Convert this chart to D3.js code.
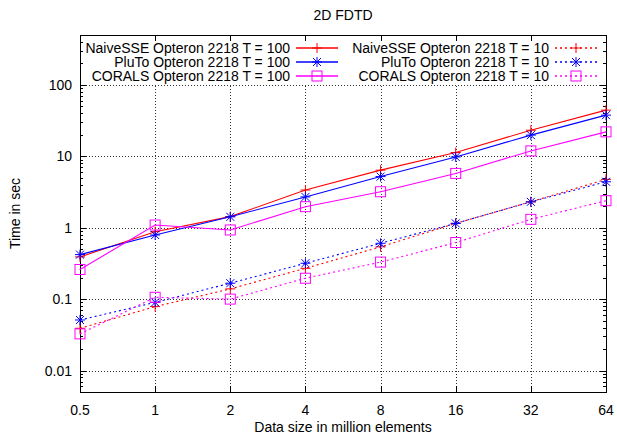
<!DOCTYPE html>
<meta charset="utf-8">
<style>
body { margin: 0; background: #fff; }
text { font-family: "Liberation Sans", Arial, sans-serif; font-size: 14px; fill: #000; }
.grid line { stroke: #333; stroke-width: 1px; stroke-dasharray: 1,2; shape-rendering: crispEdges; }
.border { fill: none; stroke: #000; stroke-width: 1px; shape-rendering: crispEdges; }
.tick { stroke: #000; stroke-width: 1px; shape-rendering: crispEdges; }
.series { fill: none; stroke-width: 1.1px; }
</style>
<svg width="617" height="436"></svg>
<script src="https://d3js.org/d3.v7.min.js"></script>
<script>

var sizes = [0.5, 1, 2, 4, 8, 16, 32, 64];
var naive100 = [0.39, 0.88, 1.43, 3.37, 6.4, 11.3, 23.2, 44.3];
var pluto100 = [0.42, 0.79, 1.42, 2.7, 5.2, 9.8, 19.8, 37.7];
var corals100 = [0.26, 1.09, 0.93, 1.97, 3.19, 5.76, 11.9, 22];
var naive10 = [0.039, 0.0785, 0.139, 0.27, 0.54, 1.15, 2.31, 4.75];
var pluto10 = [0.051, 0.09, 0.167, 0.318, 0.605, 1.15, 2.3, 4.4];
var corals10 = [0.0326, 0.106, 0.1, 0.196, 0.33, 0.62, 1.31, 2.39];
var yTicks = [0.01, 0.1, 1, 10, 100];
var xTickLabels = ["0.5", "1", "2", "4", "8", "16", "32", "64"];

var series = [
  {name: "NaiveSSE Opteron 2218 T = 100", values: naive100, color: "#ff0000", mark: "plus", dash: null},
  {name: "PluTo Opteron 2218 T = 100", values: pluto100, color: "#0000ff", mark: "star", dash: null},
  {name: "CORALS Opteron 2218 T = 100", values: corals100, color: "#ff00ff", mark: "square", dash: null},
  {name: "NaiveSSE Opteron 2218 T = 10", values: naive10, color: "#ff0000", mark: "plus", dash: "2,3"},
  {name: "PluTo Opteron 2218 T = 10", values: pluto10, color: "#0000ff", mark: "star", dash: "2,3"},
  {name: "CORALS Opteron 2218 T = 10", values: corals10, color: "#ff00ff", mark: "square", dash: "2,3"}
];

var svg = d3.select("svg");
var pLeft = 80, pRight = 606, pTop = 35, pBottom = 392;

var x = d3.scaleLog().base(2).domain([0.5, 64]).range([pLeft, pRight]);
var y = d3.scaleLog().domain([0.005, 500]).range([pBottom, pTop]);

// grid
var grid = svg.append("g").attr("class", "grid");
grid.selectAll("line.v").data(sizes.slice(1, -1)).enter().append("line")
    .attr("x1", d => Math.round(x(d)) + 0.5).attr("x2", d => Math.round(x(d)) + 0.5)
    .attr("y1", pTop).attr("y2", pBottom);
grid.selectAll("line.h").data(yTicks).enter().append("line")
    .attr("x1", pLeft).attr("x2", pRight)
    .attr("y1", d => Math.round(y(d)) + 0.5).attr("y2", d => Math.round(y(d)) + 0.5);

// key background hides the grid
svg.append("rect").attr("x", pLeft + 1).attr("y", pTop + 1)
    .attr("width", pRight - pLeft - 2).attr("height", Math.round(y(100)) - pTop - 2)
    .attr("fill", "#fff");

// ticks
var ticks = svg.append("g");
sizes.forEach(function(d) {
  var xx = Math.round(x(d)) + 0.5;
  ticks.append("line").attr("class", "tick").attr("x1", xx).attr("x2", xx).attr("y1", pBottom).attr("y2", pBottom - 6);
  ticks.append("line").attr("class", "tick").attr("x1", xx).attr("x2", xx).attr("y1", pTop).attr("y2", pTop + 6);
});
var minor = [];
for (var e = -3; e <= 2; e++) {
  for (var m = 1; m <= 9; m++) {
    var v = m * Math.pow(10, e);
    if (v >= 0.005 && v <= 500) minor.push({v: v, major: m === 1});
  }
}
minor.forEach(function(d) {
  var yy = Math.round(y(d.v)) + 0.5, len = d.major ? 6 : 3;
  ticks.append("line").attr("class", "tick").attr("x1", pLeft).attr("x2", pLeft + len).attr("y1", yy).attr("y2", yy);
  ticks.append("line").attr("class", "tick").attr("x1", pRight).attr("x2", pRight - len).attr("y1", yy).attr("y2", yy);
});

svg.append("rect").attr("class", "border")
    .attr("x", pLeft + 0.5).attr("y", pTop + 0.5)
    .attr("width", pRight - pLeft).attr("height", pBottom - pTop);

// tick labels
svg.selectAll("text.xl").data(sizes).enter().append("text")
    .attr("x", d => x(d)).attr("y", 415).attr("text-anchor", "middle")
    .text((d, i) => xTickLabels[i]);
svg.selectAll("text.yl").data(yTicks).enter().append("text")
    .attr("x", 72).attr("y", d => y(d) + 5).attr("text-anchor", "end")
    .text(d => String(d));

svg.append("text").attr("x", (pLeft + pRight) / 2).attr("y", 20).attr("text-anchor", "middle").text("2D FDTD");
svg.append("text").attr("x", (pLeft + pRight) / 2).attr("y", 432).attr("text-anchor", "middle").text("Data size in million elements");
svg.append("text").attr("transform", "translate(20," + ((pTop + pBottom) / 2) + ") rotate(-90)")
    .attr("text-anchor", "middle").text("Time in sec");

function drawMark(g, type, cx, cy, color) {
  var s = 5;
  if (type === "plus" || type === "star") {
    g.append("line").attr("x1", cx - s).attr("x2", cx + s).attr("y1", cy).attr("y2", cy).attr("stroke", color);
    g.append("line").attr("x1", cx).attr("x2", cx).attr("y1", cy - s).attr("y2", cy + s).attr("stroke", color);
  }
  if (type === "star") {
    var t = 4;
    g.append("line").attr("x1", cx - t).attr("x2", cx + t).attr("y1", cy - t).attr("y2", cy + t).attr("stroke", color);
    g.append("line").attr("x1", cx - t).attr("x2", cx + t).attr("y1", cy + t).attr("y2", cy - t).attr("stroke", color);
  }
  if (type === "square") {
    g.append("rect").attr("x", cx - s).attr("y", cy - s).attr("width", 2 * s).attr("height", 2 * s)
        .attr("fill", "none").attr("stroke", color);
    g.append("rect").attr("x", cx - 0.5).attr("y", cy - 0.5).attr("width", 1).attr("height", 1).attr("fill", color);
  }
}

var line = d3.line().x(d => x(d[0])).y(d => y(d[1]));

series.forEach(function(s) {
  var g = svg.append("g");
  var pts = sizes.map((d, i) => [d, s.values[i]]);
  g.append("path").attr("class", "series").attr("d", line(pts))
      .attr("stroke", s.color).attr("stroke-dasharray", s.dash);
  pts.forEach(p => drawMark(g, s.mark, x(p[0]), y(p[1]), s.color));
});

// key
var keyRows = [48, 62, 76];
var keyCols = [{textEnd: 290, x1: 296, x2: 338}, {textEnd: 549, x1: 555, x2: 597}];
series.forEach(function(s, i) {
  var col = keyCols[Math.floor(i / 3)], ry = keyRows[i % 3];
  svg.append("text").attr("x", col.textEnd).attr("y", ry + 5).attr("text-anchor", "end").text(s.name);
  var g = svg.append("g");
  g.append("line").attr("x1", col.x1).attr("x2", col.x2).attr("y1", ry).attr("y2", ry)
      .attr("stroke", s.color).attr("stroke-width", 1.5).attr("stroke-dasharray", s.dash);
  drawMark(g, s.mark, (col.x1 + col.x2) / 2, ry, s.color);
});

</script>
